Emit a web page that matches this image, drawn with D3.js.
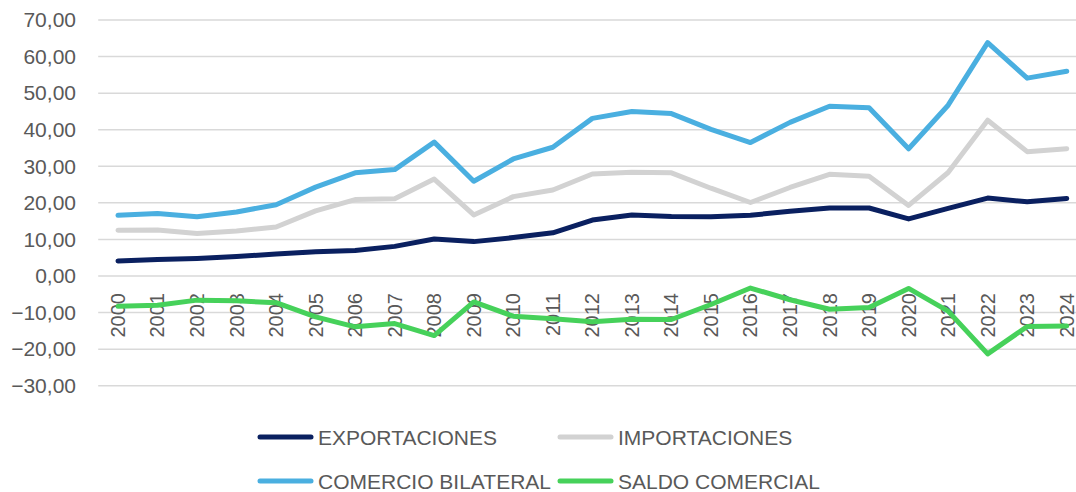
<!DOCTYPE html>
<html>
<head>
<meta charset="utf-8">
<script src="https://cdn.jsdelivr.net/npm/d3@7"></script>
<style>
  body { margin: 0; background: #fff; }
  text { font-family: "Liberation Sans", Arial, sans-serif; fill: #595959; }
</style>
</head>
<body>
<div id="chart"></div>
<script>
// data
var years = ["2000","2001","2002","2003","2004","2005","2006","2007","2008","2009","2010","2011","2012",
             "2013","2014","2015","2016","2017","2018","2019","2020","2021","2022","2023","2024"];
var exportaciones = [4.1,4.5,4.8,5.3,6.0,6.6,7.0,8.1,10.1,9.4,10.5,11.8,15.3,16.7,16.3,16.2,16.6,17.7,18.6,18.6,15.6,18.5,21.3,20.3,21.2];
var importaciones = [12.5,12.6,11.6,12.3,13.4,17.8,20.9,21.1,26.5,16.7,21.7,23.5,27.9,28.4,28.2,24.0,20.1,24.2,27.8,27.3,19.3,28.3,42.6,34.0,34.8];
var bilateral = [16.6,17.1,16.2,17.5,19.5,24.3,28.2,29.1,36.6,25.9,32.0,35.2,43.1,45.0,44.4,40.1,36.5,42.0,46.4,46.0,34.8,46.7,63.8,54.1,56.0];
var saldo = [-8.3,-8.0,-6.6,-6.8,-7.3,-11.2,-13.9,-13.0,-16.3,-7.1,-11.0,-11.7,-12.5,-11.8,-11.9,-7.8,-3.3,-6.5,-9.1,-8.6,-3.4,-9.6,-21.3,-13.8,-13.7];
var yTicks = [70,60,50,40,30,20,10,0,-10,-20,-30];

var seriesNames = ["EXPORTACIONES","IMPORTACIONES","COMERCIO BILATERAL","SALDO COMERCIAL"];
var seriesColors = ["#0A2060","#D2D2D2","#4AAFE0","#46D15A"];
var seriesData = [exportaciones, importaciones, bilateral, saldo];

var width = 1076, height = 492;

var svg = d3.select("#chart").append("svg")
    .attr("width", width)
    .attr("height", height);

var x = d3.scalePoint()
    .domain(years)
    .range([98.2, 1086.5])
    .padding(0.5);

var y = d3.scaleLinear()
    .domain([-30, 70])
    .range([385.7, 20]);

// gridlines
svg.append("g")
    .selectAll("line")
    .data(yTicks)
    .enter()
    .append("line")
    .attr("x1", 98.2)
    .attr("x2", 1086.5)
    .attr("y1", function(d){ return y(d); })
    .attr("y2", function(d){ return y(d); })
    .attr("stroke", "#D9D9D9")
    .attr("stroke-width", 1.5);

// y labels
svg.append("g")
    .selectAll("text")
    .data(yTicks)
    .enter()
    .append("text")
    .attr("x", 76)
    .attr("y", function(d){ return y(d); })
    .attr("dy", "0.35em")
    .attr("text-anchor", "end")
    .attr("font-size", 21)
    .text(function(d){ return d3.format(".2f")(d).replace(".", ","); });

// year labels, rotated, sitting below the zero line
svg.append("g")
    .selectAll("text")
    .data(years)
    .enter()
    .append("text")
    .attr("transform", function(d){ return "translate(" + (x(d) + 7) + "," + 293 + ") rotate(-90)"; })
    .attr("text-anchor", "end")
    .attr("font-size", 20)
    .text(function(d){ return d; });

// series lines
var line = d3.line()
    .x(function(d, i){ return x(years[i]); })
    .y(function(d){ return y(d); });

svg.append("g")
    .selectAll("path")
    .data(seriesData)
    .enter()
    .append("path")
    .attr("d", line)
    .attr("fill", "none")
    .attr("stroke", function(d, i){ return seriesColors[i]; })
    .attr("stroke-width", 5)
    .attr("stroke-linejoin", "round")
    .attr("stroke-linecap", "round");

// legend, two rows of two
var legendPos = [[260, 437], [560, 437], [260, 481], [560, 481]];
var legend = svg.append("g")
    .selectAll("g")
    .data(seriesNames)
    .enter()
    .append("g")
    .attr("transform", function(d, i){ return "translate(" + legendPos[i][0] + "," + legendPos[i][1] + ")"; });

legend.append("line")
    .attr("x1", 0)
    .attr("x2", 51)
    .attr("stroke", function(d, i){ return seriesColors[i]; })
    .attr("stroke-width", 5)
    .attr("stroke-linecap", "round");

legend.append("text")
    .attr("x", 58)
    .attr("dy", "0.36em")
    .attr("font-size", 21)
    .text(function(d){ return d; });
</script>
</body>
</html>
